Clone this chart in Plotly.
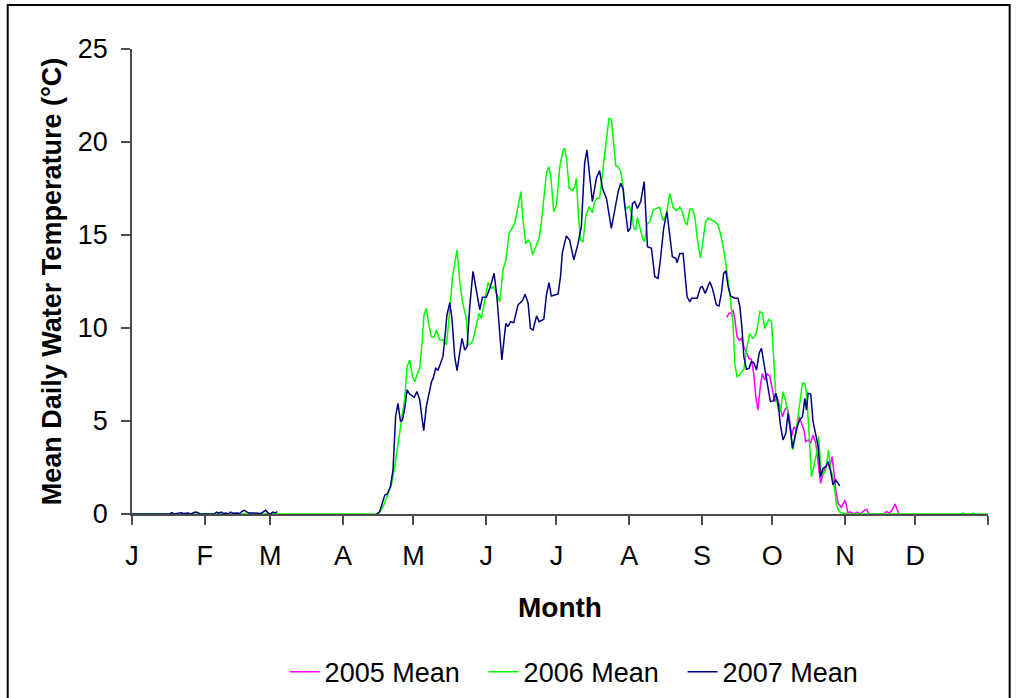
import plotly.graph_objects as go

# ---------------- data (day of year, mean daily water temperature °C) ----------------
month_ticks = [0, 31, 59, 90, 120, 151, 181, 212, 243, 273, 304, 334, 365]
month_labels = ["J", "F", "M", "A", "M", "J", "J", "A", "S", "O", "N", "D", ""]

y2005_day = [253.5, 254.6, 255.6, 256.3, 257.0, 258.0, 258.9, 259.9, 260.9, 262.0, 263.1, 264.1,
             265.1, 266.0, 266.9, 267.9, 268.8, 269.8, 270.8, 271.9, 273.1, 274.1, 275.0, 276.2,
             277.4, 278.3, 279.3, 280.2, 281.2, 282.2, 283.3, 284.5, 285.5, 286.5, 287.3, 288.3,
             289.3, 290.4, 291.6, 292.6, 293.6, 294.7, 295.8, 296.8, 297.5, 298.5, 299.2, 300.1,
             301.1, 302.5, 303.9, 304.3, 304.9, 305.2, 306.1, 308.0, 309.2, 310.5, 312.4, 313.4,
             314.2, 318.0, 320.5, 321.7, 323.0, 324.3, 325.4, 326.7, 327.4]
y2005_val = [10.57, 10.79, 10.82, 10.97, 10.52, 9.53, 9.35, 9.44, 9.00, 8.64, 8.37, 8.32,
             7.56, 6.31, 5.59, 6.84, 7.56, 7.20, 7.53, 7.42, 6.67, 6.04, 6.31, 5.77,
             5.23, 5.59, 5.77, 5.23, 4.16, 4.69, 4.52, 5.23, 4.87, 4.52, 3.89, 3.98,
             3.80, 4.25, 3.80, 2.73, 1.65, 2.19, 2.54, 2.81, 2.46, 3.08, 2.37, 1.29,
             0.57, 0.36, 0.72, 0.66, 0.30, 0.05, 0.12, 0.00, 0.10, 0.00, 0.21, 0.25,
             0.00, 0.00, 0.00, 0.14, 0.05, 0.25, 0.54, 0.10, 0.00]

y2006_day = [0, 104.0, 105.0, 107.1, 109.2, 110.6, 112.0, 113.4, 114.9, 116.3, 117.3, 118.4,
             119.6, 120.6, 121.5, 122.7, 123.8, 124.5, 125.5, 126.7, 127.7, 128.7, 129.8, 131.2,
             132.9, 134.1, 135.5, 136.6, 137.6, 138.6, 139.7, 140.9, 141.9, 142.6, 143.3, 144.7,
             145.4, 146.6, 148.0, 149.0, 150.4, 151.8, 153.3, 154.2, 155.4, 156.8, 158.2, 159.4,
             160.8, 162.2, 163.2, 164.6, 165.8, 166.7, 167.9, 168.9, 169.9, 170.8, 172.2, 173.6,
             174.6, 175.6, 176.7, 177.7, 178.6, 179.8, 181.0, 182.4, 183.8, 184.5, 185.3, 186.4,
             187.8, 188.8, 189.5, 190.2, 191.2, 192.3, 193.5, 194.9, 196.3, 197.3, 198.3, 199.4,
             200.6, 201.6, 202.6, 203.4, 204.4, 205.4, 206.3, 207.3, 208.4, 209.4, 210.1, 211.1,
             212.0, 213.0, 214.0, 214.8, 215.5, 216.5, 217.7, 218.6, 219.6, 220.8, 222.2, 223.6,
             225.0, 226.4, 227.9, 229.3, 230.7, 232.2, 233.6, 234.7, 235.7, 236.7, 237.8, 239.0,
             240.0, 241.0, 242.4, 243.5, 244.6, 245.6, 247.1, 248.5, 249.9, 251.3, 252.8, 253.7,
             254.9, 256.3, 257.0, 258.0, 259.1, 259.9, 260.9, 262.0, 263.4, 264.6, 265.5, 266.5,
             267.7, 268.8, 269.8, 270.5, 271.6, 272.7, 273.6, 274.5, 275.5, 276.5, 277.6, 278.6,
             279.7, 280.8, 281.9, 283.0, 284.0, 285.0, 285.9, 286.9, 287.6, 288.7, 289.7, 290.7,
             291.9, 292.8, 293.7, 294.7, 295.8, 297.0, 297.9, 298.9, 299.7, 300.4, 301.5, 303.2,
             304.0, 354.0, 354.4, 355.0, 358.0, 358.6, 359.2, 365.0]
y2006_val = [0, 0.00, 0.00, 0.39, 1.11, 1.56, 2.54, 3.80, 4.96, 6.22, 7.92, 8.28,
             7.38, 7.11, 7.47, 7.83, 9.35, 10.70, 11.06, 10.07, 9.53, 9.50, 9.89, 9.35,
             9.35, 9.09, 10.97, 12.67, 13.48, 14.19, 12.58, 11.41, 10.88, 10.43, 9.09, 9.18,
             9.35, 10.07, 10.79, 10.52, 11.50, 12.44, 12.13, 12.22, 11.86, 11.41, 13.12, 13.66,
             15.09, 15.45, 15.63, 16.52, 17.33, 15.81, 14.52, 14.73, 14.55, 13.92, 14.37, 14.82,
             15.72, 16.97, 18.32, 18.67, 18.13, 16.25, 16.61, 18.67, 19.57, 19.66, 19.10, 17.51,
             17.38, 17.60, 18.05, 16.34, 14.73, 14.64, 16.02, 16.52, 16.20, 16.79, 16.97, 16.97,
             18.13, 19.39, 20.47, 21.27, 21.22, 19.93, 18.71, 18.67, 18.40, 17.60, 16.52, 16.43,
             16.56, 16.17, 15.36, 15.27, 15.95, 15.45, 14.82, 14.64, 15.59, 15.72, 16.34, 16.43,
             16.49, 15.77, 16.08, 17.24, 16.49, 16.31, 16.49, 16.25, 15.72, 15.54, 16.38, 16.38,
             15.99, 14.82, 13.75, 14.73, 15.72, 15.90, 15.81, 15.72, 15.54, 14.87, 13.83, 13.03,
             11.86, 10.20, 8.10, 7.38, 7.47, 7.65, 7.78, 8.82, 9.71, 9.44, 9.53, 9.89,
             10.88, 10.79, 9.98, 10.16, 10.47, 10.34, 8.46, 6.40, 5.68, 5.50, 6.58, 6.13,
             5.41, 4.52, 3.44, 4.34, 5.23, 5.95, 7.03, 7.03, 6.49, 4.34, 2.00, 2.54,
             3.26, 4.16, 2.37, 2.10, 2.37, 3.44, 2.37, 2.00, 1.29, 0.48, 0.12, 0.05,
             0.00, 0.00, 0.06, 0.00, 0.00, 0.06, 0.00, 0.00]

# 2007: winter record (Jan - early Mar), gap, then open-water season
y2007_day = [0, 16, 17, 18, 21, 22, 24, 25, 27, 28, 29, 35, 36, 37, 38, 39, 40, 41, 42, 43,
             45, 46, 47, 48, 49, 50, 52, 53, 54, 55, 57, 58, 59, 60, 61, 62, None,
             104.3, 105.6, 107.8, 108.8, 110.2, 111.3, 112.4, 113.4, 114.5, 115.3, 116.4, 117.3,
             118.4, 120.3, 121.5, 122.7, 123.4, 124.4, 125.5, 126.7, 127.7, 128.4, 129.5, 130.5,
             131.5, 132.6, 133.3, 134.3, 135.5, 136.5, 137.6, 138.6, 139.7, 140.7, 141.9, 142.9,
             144.0, 145.4, 148.3, 149.4, 151.1, 152.8, 154.4, 155.6, 157.7, 159.4, 160.3, 161.4,
             162.8, 164.6, 166.5, 167.6, 168.9, 169.9, 171.0, 172.5, 173.6, 175.6, 176.7, 177.8,
             178.8, 181.7, 182.7, 183.5, 185.2, 186.6, 188.4, 190.2, 191.6, 193.0, 194.0, 195.2,
             196.3, 198.0, 199.4, 200.6, 202.3, 204.4, 205.8, 207.3, 208.4, 209.4, 210.5, 211.5,
             212.5, 213.4, 214.4, 215.5, 216.9, 218.4, 219.8, 221.5, 222.9, 224.3, 225.3, 226.7,
             228.1, 229.3, 230.4, 231.9, 232.4, 233.6, 235.0, 235.9, 236.7, 237.9, 238.6, 241.0,
             242.4, 243.2, 244.4, 246.4, 247.5, 249.2, 250.3, 251.3, 252.3, 253.2, 254.2, 255.2,
             257.0, 258.4, 259.2, 260.1, 260.9, 262.0, 263.1, 264.1, 265.1, 266.3, 267.4, 268.4,
             269.1, 270.2, 271.2, 272.2, 273.4, 274.5, 275.5, 276.5, 277.6, 278.8, 279.7, 280.8,
             281.6, 282.6, 283.6, 284.7, 285.9, 286.9, 287.6, 288.3, 289.4, 290.4, 291.6, 292.6,
             293.6, 294.7, 295.8, 296.8, 297.8, 298.9, 300.1, 301.8]
y2007_val = [0, 0, 0.07, 0, 0.07, 0.03, 0.05, 0, 0.10, 0.08, 0, 0, 0.10, 0.04, 0.10, 0.03, 0.05, 0, 0.10, 0.04,
             0.05, 0.03, 0.15, 0.20, 0.10, 0.06, 0.05, 0.04, 0.07, 0.03, 0.20, 0.05, 0, 0.10, 0.06, 0.12, None,
             0.00, 0.12, 1.02, 1.07, 1.47, 2.37, 5.23, 5.95, 4.96, 5.05, 5.77, 6.67,
             6.45, 6.27, 6.58, 6.13, 5.41, 4.48, 5.77, 6.58, 7.11, 7.29, 7.83, 7.74,
             8.10, 8.46, 9.35, 10.70, 11.36, 10.43, 8.46, 7.71, 8.64, 9.44, 8.82, 9.00,
             11.15, 13.05, 10.97, 11.65, 11.65, 12.22, 12.94, 11.68, 8.28, 10.25, 10.07, 10.34,
             10.29, 11.24, 11.47, 11.81, 11.33, 9.98, 9.89, 10.65, 10.34, 10.47, 11.77, 12.44,
             11.72, 11.83, 12.76, 14.05, 14.95, 14.73, 13.66, 14.55, 15.45, 18.85, 19.57, 18.13,
             16.79, 18.05, 18.46, 17.51, 16.97, 15.36, 16.34, 17.33, 17.78, 17.46, 16.17, 15.18,
             15.36, 16.70, 16.79, 16.43, 16.79, 17.87, 14.37, 14.28, 12.76, 12.67, 13.66, 15.36,
             16.25, 15.09, 13.83, 13.75, 13.51, 14.01, 14.01, 12.76, 11.68, 11.41, 11.60, 11.60,
             12.19, 12.22, 11.86, 12.49, 12.13, 11.24, 11.18, 11.86, 12.94, 13.08, 12.22, 11.72,
             11.60, 11.60, 11.15, 9.98, 8.46, 7.78, 7.83, 8.19, 8.14, 7.74, 8.64, 8.91,
             8.37, 7.38, 6.67, 6.04, 6.08, 6.49, 5.95, 4.78, 3.98, 4.34, 5.41, 4.52,
             3.53, 4.16, 4.69, 5.05, 5.23, 6.22, 5.59, 6.49, 6.45, 4.96, 4.16, 3.62,
             2.00, 2.46, 2.54, 2.81, 2.37, 1.56, 1.83, 1.51]

series = [
    ("2005 Mean", y2005_day, y2005_val, "#FF00FF"),
    ("2006 Mean", y2006_day, y2006_val, "#00FF00"),
    ("2007 Mean", y2007_day, y2007_val, "#000080"),
]

FONT = "Liberation Sans, Arial, sans-serif"
AXIS_COLOR = "#4d4d4d"

fig = go.Figure()
for name, xs, ys, color in series:
    fig.add_trace(go.Scatter(x=xs, y=ys, name=name, mode="lines",
                             line=dict(color=color, width=1.5),
                             connectgaps=False))

fig.update_layout(
    width=1018, height=698,
    margin=dict(l=132, r=30, t=49, b=184, autoexpand=False),
    paper_bgcolor="white", plot_bgcolor="white",
    font=dict(family=FONT, size=27, color="black"),
    showlegend=True,
    legend=dict(orientation="h", x=0.527, xanchor="center", y=-0.34, yanchor="middle",
                font=dict(size=27), entrywidth=154, entrywidthmode="pixels",
                itemwidth=30, bgcolor="rgba(0,0,0,0)"),
    xaxis=dict(range=[0, 365], tickmode="array", tickvals=month_ticks, ticktext=month_labels,
               automargin=False,
               showgrid=False, zeroline=False, showline=True, linecolor=AXIS_COLOR, linewidth=1.5,
               ticks="outside", ticklen=9, tickcolor=AXIS_COLOR, tickwidth=1.5,
               ticklabelstandoff=8,
               title=dict(text="<b>Month</b>", font=dict(size=28), standoff=27)),
    yaxis=dict(range=[0, 25], tickmode="linear", tick0=0, dtick=5,
               automargin=False,
               showgrid=False, zeroline=False, showline=True, linecolor=AXIS_COLOR, linewidth=1.5,
               ticks="outside", ticklen=9, tickcolor=AXIS_COLOR, tickwidth=1.5,
               ticklabelstandoff=8,
               title=dict(text="<b>Mean Daily Water Temperature (°C)</b>", font=dict(size=27), standoff=8)),
)

# outer chart-area border
fig.add_shape(type="rect", xref="paper", yref="paper",
              x0=-0.1452, x1=1.0253, y0=-0.45, y1=1.0946,
              line=dict(color="black", width=2), fillcolor="rgba(0,0,0,0)", layer="below")

fig.write_html("out.html", config={"displayModeBar": False},
               post_script="document.body.style.margin='0';document.body.style.overflow='hidden';")
